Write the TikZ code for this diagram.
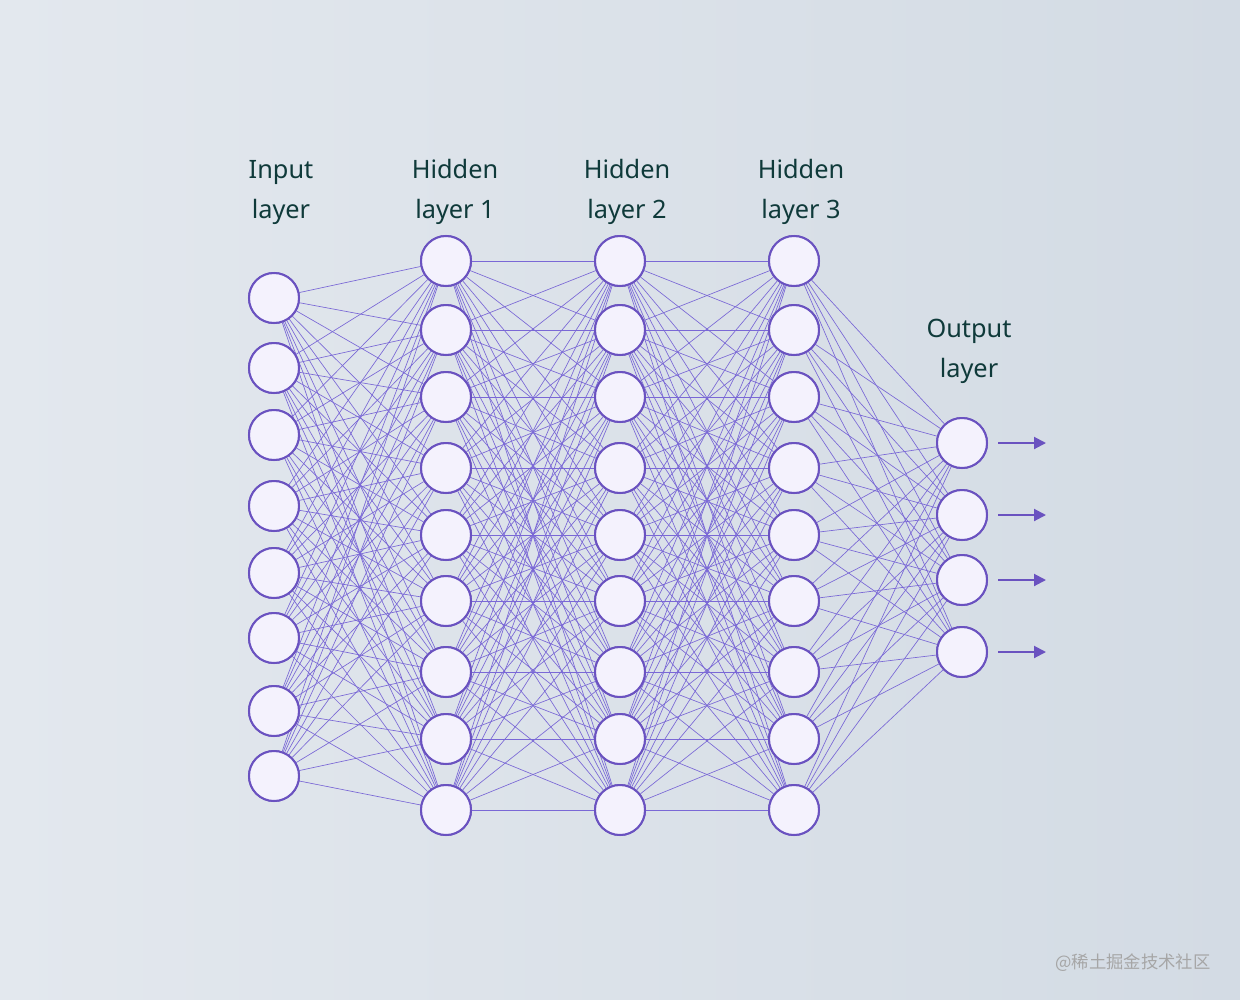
\documentclass[tikz,border=0pt]{standalone}
\usepackage{fontspec}
\setmainfont{Noto Sans}
\newfontfamily\cjk{Noto Sans CJK SC}
\definecolor{bgA}{HTML}{E3E8EE}
\definecolor{bgB}{HTML}{D3DBE4}
\definecolor{nodeedge}{HTML}{6A52C0}
\definecolor{nodefill}{HTML}{F4F2FD}
\definecolor{linkc}{HTML}{7A68D6}
\definecolor{txt}{HTML}{0F3A3A}
\usetikzlibrary{arrows.meta}
\tikzset{
 neuron/.style={circle,draw=nodeedge,fill=nodefill,line width=1.5pt,minimum size=37.5pt,inner sep=0pt},
 link/.style={draw=linkc,line width=0.5pt},
 lbl/.style={text=txt,font=\fontsize{19}{30}\selectfont,align=center},
 outarrow/.style={draw=nodeedge,line width=1.5pt,-{Triangle[length=9pt,width=9pt]}}
}
\begin{document}
\begin{tikzpicture}[x=0.75pt,y=-0.75pt]
\useasboundingbox (0,0) rectangle (1240,1000);
\shade[left color=bgA,right color=bgB] (0,0) rectangle (1240,1000);
\foreach \y [count=\i] in {298,368,435,506,573,638,711,776} \node[neuron] (a\i) at (274,\y) {};
\foreach \y [count=\i] in {261,330,397,468,535,601,672,739,810} {
 \node[neuron] (b\i) at (446,\y) {};
 \node[neuron] (c\i) at (620,\y) {};
 \node[neuron] (d\i) at (794,\y) {};
}
\foreach \y [count=\i] in {443,515,580,652} \node[neuron] (e\i) at (962,\y) {};
\foreach \i in {1,...,8} \foreach \j in {1,...,9} \draw[link] (a\i) -- (b\j);
\foreach \i in {1,...,9} \foreach \j in {1,...,9} {\draw[link] (b\i) -- (c\j); \draw[link] (c\i) -- (d\j);}
\foreach \i in {1,...,9} \foreach \j in {1,...,4} \draw[link] (d\i) -- (e\j);
\foreach \y in {298,368,435,506,573,638,711,776} \node[neuron] at (274,\y) {};
\foreach \y in {261,330,397,468,535,601,672,739,810} {
 \node[neuron] at (446,\y) {};
 \node[neuron] at (620,\y) {};
 \node[neuron] at (794,\y) {};
}
\foreach \y [count=\i] in {443,515,580,652} {\node[neuron] at (962,\y) {};
 \coordinate (t\i) at (1046,\y);
 \draw[outarrow] ([xshift=7.5pt]e\i.east) -- (t\i);}
\node[lbl] (l1) at (281,192) {Input\\layer};
\node[lbl] (l2) at (455,192) {Hidden\\layer 1};
\node[lbl] (l3) at (627,192) {Hidden\\layer 2};
\node[lbl] (l4) at (801,192) {Hidden\\layer 3};
\node[lbl] (l5) at (969,351) {Output\\layer};
\node[text=gray!70!white,font=\cjk\fontsize{13}{15}\selectfont] (wm) at (1133,963) {@稀土掘金技术社区};
\end{tikzpicture}
\end{document}
